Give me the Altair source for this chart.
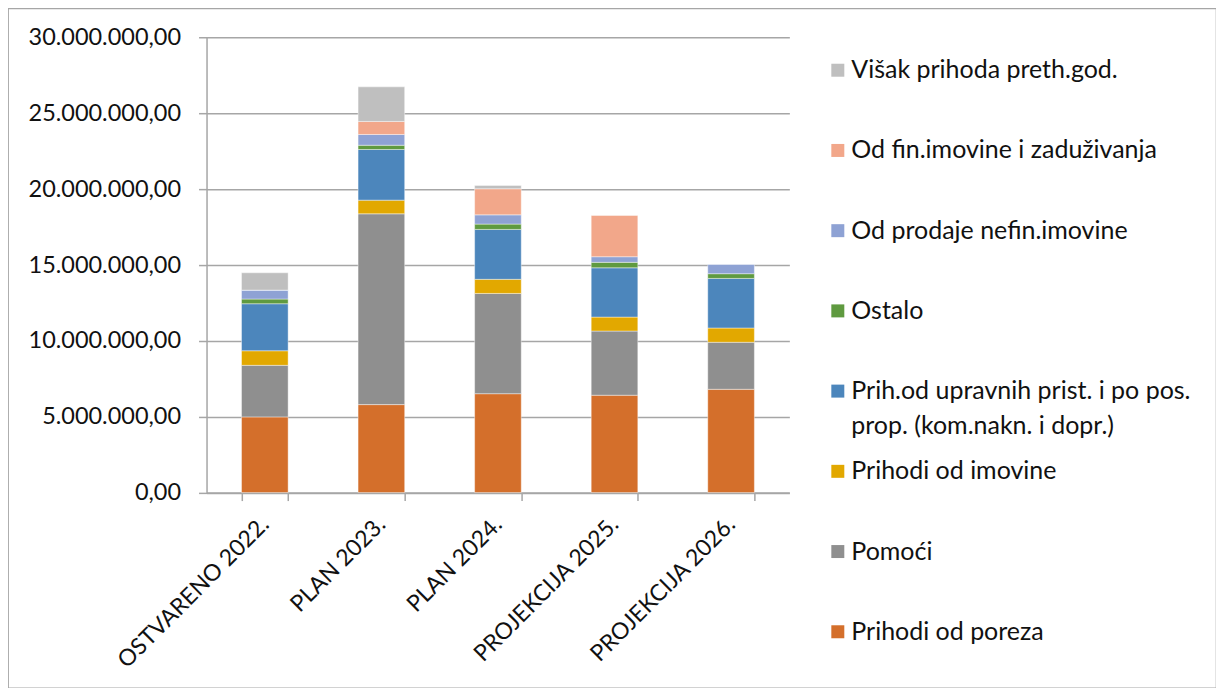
import altair as alt
import pandas as pd

categories = ["OSTVARENO 2022.", "PLAN 2023.", "PLAN 2024.", "PROJEKCIJA 2025.", "PROJEKCIJA 2026."]
series = [
    "Prihodi od poreza",
    "Pomoći",
    "Prihodi od imovine",
    "Prih.od upravnih prist. i po pos. prop. (kom.nakn. i dopr.)",
    "Ostalo",
    "Od prodaje nefin.imovine",
    "Od fin.imovine i zaduživanja",
    "Višak prihoda preth.god.",
]
legend_labels = [
    "Prihodi od poreza",
    "Pomoći",
    "Prihodi od imovine",
    "Prih.od upravnih prist. i po pos.\nprop. (kom.nakn. i dopr.)",
    "Ostalo",
    "Od prodaje nefin.imovine",
    "Od fin.imovine i zaduživanja",
    "Višak prihoda preth.god.",
]
colors = ["#D46F2B", "#8F8F8F", "#E2A800", "#4C86BC", "#5F9A40", "#8EA2D4", "#F2A78A", "#BFBFBF"]

poreza = [4990000, 5800000, 6520000, 6420000, 6810000]
pomoci = [3400000, 12580000, 6610000, 4230000, 3100000]
imovine = [960000, 900000, 930000, 920000, 940000]
upravnih = [3100000, 3340000, 3290000, 3250000, 3270000]
ostalo = [310000, 280000, 350000, 360000, 310000]
nefin = [590000, 710000, 610000, 370000, 640000]
fin = [0, 860000, 1720000, 2740000, 0]
visak = [1140000, 2280000, 220000, 0, 0]

values = [poreza, pomoci, imovine, upravnih, ostalo, nefin, fin, visak]
y_ticks = [0, 5000000, 10000000, 15000000, 20000000, 25000000, 30000000]

rows = []
for si, (s, vals) in enumerate(zip(series, values)):
    for c, v in zip(categories, vals):
        rows.append({"cat": c, "series": s, "value": v, "order": si})
df = pd.DataFrame(rows)

leg = pd.DataFrame({
    "series": series[::-1],
    "label": legend_labels[::-1],
})

FONT = "Lato"
W, H = 1209, 680
OX0, OX1 = 198.7, 782.0
Y0, Y1 = 484.7, 29.3

color_scale = alt.Scale(domain=series, range=colors)

bars = alt.Chart(df).mark_bar(stroke="white", strokeWidth=0.6, strokeOpacity=0.7).encode(
    x=alt.X("cat:N", sort=categories,
            scale=alt.Scale(range=[OX0, OX1], paddingInner=0.6, paddingOuter=0.3),
            axis=alt.Axis(title=None, labelAngle=-45, labelAlign="right", labelBaseline="middle",
                          labelFontSize=23, labelFont=FONT, labelColor="#111111", labelLimit=0,
                          labelPadding=20, tickBand="extent", tickSize=8,
                          tickColor="#A6A6A6", domainColor="#A6A6A6", domainWidth=1.5, tickWidth=1.5,
                          offset=-(H - Y0), grid=False)),
    y=alt.Y("value:Q", stack="zero",
            scale=alt.Scale(domain=[0, 30000000], range=[Y0, Y1], nice=False),
            axis=alt.Axis(title=None, values=y_ticks, format=",.2f",
                          labelFontSize=23.5, labelFont=FONT, labelColor="#111111",
                          labelPadding=18, tickSize=8, tickColor="#A6A6A6", tickWidth=1.5,
                          domainColor="#A6A6A6", domainWidth=1.5,
                          grid=True, gridColor="#A6A6A6", gridWidth=1.5,
                          offset=-OX0)),
    color=alt.Color("series:N", scale=color_scale, legend=None),
    order=alt.Order("order:Q", sort="ascending"),
)

leg_y = alt.Y("series:N", sort=series[::-1], scale=alt.Scale(range=[62, 624], padding=0), axis=None)

leg_sq = alt.Chart(leg).mark_square(size=169, opacity=1).encode(
    x=alt.value(830.5),
    y=leg_y,
    color=alt.Color("series:N", scale=color_scale, legend=None),
)
leg_txt = alt.Chart(leg).mark_text(align="left", baseline="top", dy=-12, lineBreak="\n",
                                   lineHeight=35, font=FONT, fontSize=25, color="#111111").encode(
    x=alt.value(844),
    y=leg_y,
    text="label:N",
)

chart = alt.layer(bars, leg_sq, leg_txt).resolve_scale(y="independent", color="shared").properties(
    width=W, height=H, padding=0, autosize=alt.AutoSizeParams(type="none"),
).configure(
    locale={"number": {"decimal": ",", "thousands": ".", "grouping": [3], "currency": ["", ""]}},
).configure_view(stroke="#A6A6A6", strokeWidth=1.2).configure_axis(labelFont=FONT)

chart.save("out.html", embed_options={"renderer": "svg", "actions": False})
